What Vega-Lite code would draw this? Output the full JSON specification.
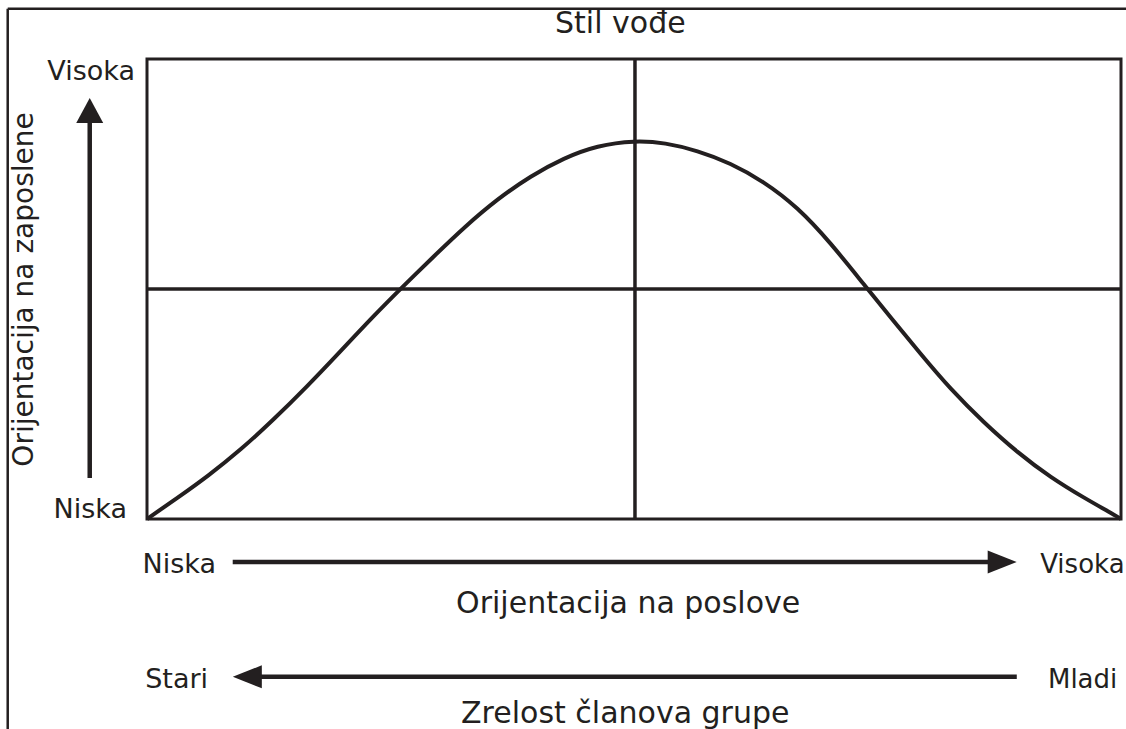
{
  "$schema": "https://vega.github.io/schema/vega-lite/v6.json",
  "autosize": {"type": "none"},
  "padding": {"left": 147, "top": 59, "right": 5, "bottom": 210},
  "width": 974,
  "height": 460,
  "background": "white",
  "config": {"view": {"stroke": "#231f20", "strokeWidth": 3}},
  "datasets": {
    "curve": [
      {"x": 0, "y": 0}, {"x": 0.6, "y": 0.9}, {"x": 3.0, "y": 4.4}, {"x": 6.3, "y": 9.4}, {"x": 9.6, "y": 15.0},
      {"x": 12.95, "y": 21.5}, {"x": 16.4, "y": 28.7}, {"x": 19.8, "y": 36.3}, {"x": 23.2, "y": 44.0},
      {"x": 26.3, "y": 50.6}, {"x": 29.4, "y": 57.0}, {"x": 32.6, "y": 63.5}, {"x": 36.0, "y": 69.6},
      {"x": 39.4, "y": 74.6}, {"x": 42.8, "y": 78.5}, {"x": 46.2, "y": 81.2}, {"x": 50.1, "y": 82.3},
      {"x": 53.2, "y": 81.8}, {"x": 56.5, "y": 80.1}, {"x": 59.9, "y": 77.4}, {"x": 63.3, "y": 73.4},
      {"x": 66.8, "y": 67.8}, {"x": 70.2, "y": 60.0}, {"x": 73.6, "y": 51.0}, {"x": 76.6, "y": 43.2},
      {"x": 79.3, "y": 36.2}, {"x": 82.5, "y": 28.2}, {"x": 85.9, "y": 21.0}, {"x": 89.4, "y": 14.4},
      {"x": 92.8, "y": 9.0}, {"x": 96.2, "y": 4.6}, {"x": 99.4, "y": 0.8}, {"x": 100, "y": 0}
    ],
    "grid": [
      {"x": 50.1, "y": 0, "x2": 50.1, "y2": 100},
      {"x": 0, "y": 50, "x2": 100, "y2": 50}
    ],
    "frame": [
      {"x": -14.3, "y": 110.9, "x2": -14.3, "y2": -50},
      {"x": -14.3, "y": 110.9, "x2": 102, "y2": 110.9}
    ],
    "shafts": [
      {"x": -5.88, "y": 8.9, "x2": -5.88, "y2": 87},
      {"x": 8.8, "y": -9.35, "x2": 86.8, "y2": -9.35},
      {"x": 11.3, "y": -34.3, "x2": 89.3, "y2": -34.3}
    ],
    "heads": [
      {"x": -5.88, "y": 88.8, "dir": "up"},
      {"x": 87.8, "y": -9.35, "dir": "right"},
      {"x": 10.3, "y": -34.3, "dir": "left"}
    ],
    "textRight": [
      {"x": -1.23, "y": 95.4, "label": "Visoka"},
      {"x": -2.06, "y": 0.22, "label": "Niska"},
      {"x": 7.09, "y": -11.74, "label": "Niska"},
      {"x": 6.27, "y": -36.7, "label": "Stari"}
    ],
    "textLeft": [
      {"x": 91.7, "y": -11.74, "label": "Visoka"},
      {"x": 92.5, "y": -36.7, "label": "Mladi"}
    ],
    "textCenter": [
      {"x": 48.6, "y": 105.65, "label": "Stil vođe"},
      {"x": 49.4, "y": -20.5, "label": "Orijentacija na poslove"},
      {"x": 49.1, "y": -44.4, "label": "Zrelost članova grupe"}
    ],
    "textVertical": [
      {"x": -11.69, "y": 49.9, "label": "Orijentacija na zaposlene"}
    ]
  },
  "layer": [
    {
      "data": {"name": "frame"},
      "mark": {"type": "rule", "clip": false, "color": "#231f20", "strokeWidth": 2.5},
      "encoding": {
        "x": {"field": "x", "type": "quantitative", "scale": {"domain": [0, 100], "nice": false, "zero": false}, "axis": null},
        "y": {"field": "y", "type": "quantitative", "scale": {"domain": [0, 100], "nice": false, "zero": false}, "axis": null},
        "x2": {"field": "x2"},
        "y2": {"field": "y2"}
      }
    },
    {
      "data": {"name": "grid"},
      "mark": {"type": "rule", "clip": false, "color": "#231f20", "strokeWidth": 3.5},
      "encoding": {
        "x": {"field": "x", "type": "quantitative"},
        "y": {"field": "y", "type": "quantitative"},
        "x2": {"field": "x2"},
        "y2": {"field": "y2"}
      }
    },
    {
      "data": {"name": "curve"},
      "mark": {"type": "line", "clip": false, "color": "#231f20", "strokeWidth": 4, "interpolate": "basis"},
      "encoding": {
        "x": {"field": "x", "type": "quantitative"},
        "y": {"field": "y", "type": "quantitative"}
      }
    },
    {
      "data": {"name": "shafts"},
      "mark": {"type": "rule", "clip": false, "color": "#231f20", "strokeWidth": 4.5},
      "encoding": {
        "x": {"field": "x", "type": "quantitative"},
        "y": {"field": "y", "type": "quantitative"},
        "x2": {"field": "x2"},
        "y2": {"field": "y2"}
      }
    },
    {
      "data": {"name": "heads"},
      "mark": {"type": "point", "clip": false, "filled": true, "color": "#231f20", "opacity": 1, "size": 750, "strokeWidth": 0},
      "encoding": {
        "x": {"field": "x", "type": "quantitative"},
        "y": {"field": "y", "type": "quantitative"},
        "shape": {
          "field": "dir", "type": "nominal", "legend": null,
          "scale": {"domain": ["up", "right", "left"], "range": ["M0,-0.91L-0.985,0.91L0.985,0.91Z", "M1.06,0L-1.06,-0.84L-1.06,0.84Z", "M-1.06,0L1.06,-0.84L1.06,0.84Z"]}
        }
      }
    },
    {
      "data": {"name": "textRight"},
      "mark": {"type": "text", "clip": false, "align": "right", "baseline": "alphabetic", "font": "DejaVu Sans", "fontSize": 27, "color": "#231f20"},
      "encoding": {
        "x": {"field": "x", "type": "quantitative"},
        "y": {"field": "y", "type": "quantitative"},
        "text": {"field": "label"}
      }
    },
    {
      "data": {"name": "textLeft"},
      "mark": {"type": "text", "clip": false, "align": "left", "baseline": "alphabetic", "font": "DejaVu Sans", "fontSize": 26, "color": "#231f20"},
      "encoding": {
        "x": {"field": "x", "type": "quantitative"},
        "y": {"field": "y", "type": "quantitative"},
        "text": {"field": "label"}
      }
    },
    {
      "data": {"name": "textCenter"},
      "mark": {"type": "text", "clip": false, "align": "center", "baseline": "alphabetic", "font": "DejaVu Sans", "fontSize": 30, "color": "#231f20"},
      "encoding": {
        "x": {"field": "x", "type": "quantitative"},
        "y": {"field": "y", "type": "quantitative"},
        "text": {"field": "label"}
      }
    },
    {
      "data": {"name": "textVertical"},
      "mark": {"type": "text", "clip": false, "align": "center", "baseline": "alphabetic", "angle": 270, "font": "DejaVu Sans", "fontSize": 28, "color": "#231f20"},
      "encoding": {
        "x": {"field": "x", "type": "quantitative"},
        "y": {"field": "y", "type": "quantitative"},
        "text": {"field": "label"}
      }
    }
  ]
}
